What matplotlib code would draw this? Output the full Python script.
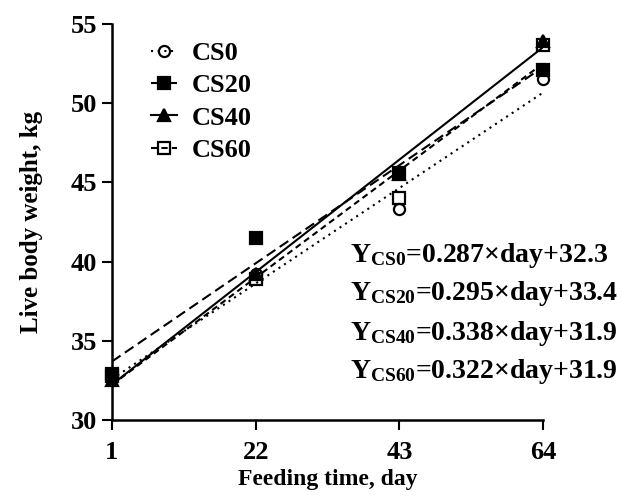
import matplotlib
matplotlib.use("Agg")
import matplotlib.pyplot as plt
from matplotlib.lines import Line2D
import numpy as np

plt.rcParams['font.family'] = ['Liberation Serif', 'DejaVu Serif']
plt.rcParams['font.weight'] = 'bold'
plt.rcParams['mathtext.fontset'] = 'custom'
plt.rcParams['mathtext.rm'] = 'Liberation Serif:bold'
plt.rcParams['mathtext.bf'] = 'Liberation Serif:bold'

# data
days = [1, 22, 43, 64]
groups = ["CS0", "CS20", "CS40", "CS60"]
cs0 = [32.7, 39.2, 43.3, 51.5]
cs20 = [32.9, 41.5, 45.6, 52.1]
cs40 = [32.5, 39.2, 45.5, 53.9]
cs60 = [32.8, 38.9, 44.0, 53.7]
slopes = [0.287, 0.295, 0.338, 0.322]
intercepts = [32.3, 33.4, 31.9, 31.9]

values = [cs0, cs20, cs40, cs60]
markers = ['o', 's', '^', 's']
facecolors = ['none', 'k', 'k', 'none']
linestyles = [(0, (1, 2.2)), (0, (5, 2.5)), '-', (0, (3, 2))]

fig = plt.figure(figsize=(6.22, 4.95), dpi=100)
ax = fig.add_axes([0.180, 0.1515, 0.693, 0.80])

# regression lines from the printed equations, plus the measured points
x_fit = np.array([days[0], days[-1]])
handles = []
for i in range(4):
    y_fit = slopes[i] * x_fit + intercepts[i]
    ax.plot(x_fit, y_fit, color='k', lw=1.5, linestyle=linestyles[i], zorder=2)
    ax.plot(days, values[i], linestyle='none', marker=markers[i], ms=8,
            mfc=facecolors[i], mec='k', mew=1.6, zorder=3, clip_on=False)
    handles.append(Line2D([], [], color='k', lw=1.5, linestyle=linestyles[i],
                          marker=markers[i], ms=8, mfc=facecolors[i], mec='k', mew=1.6))

ax.legend(handles, groups, loc='upper left', bbox_to_anchor=(0.035, 1.015), frameon=False,
          handlelength=1.0, handletextpad=0.55, labelspacing=0.33,
          prop={'weight': 'bold', 'size': 19})

ax.set_xlim(1, 64)
ax.set_ylim(30, 55)
ax.set_xticks(days)
ax.set_yticks([30, 35, 40, 45, 50, 55])
ax.tick_params(labelsize=19, width=1.5, length=7, direction='out')
ax.tick_params(axis='x', pad=8)
for s in ['top', 'right']:
    ax.spines[s].set_visible(False)
for s in ['left', 'bottom']:
    ax.spines[s].set_linewidth(1.8)
ax.spines['bottom'].set_bounds(1, 64)

ax.set_xlabel("Feeding time, day", fontsize=17, fontweight='bold', labelpad=4)
ax.set_ylabel("Live body weight, kg", fontsize=18, fontweight='bold', labelpad=20)

eq_rows = [255, 293, 333, 372]
for i in range(4):
    txt = r"$\mathrm{Y_{%s}}$=%.3f×day+%.1f" % (groups[i], slopes[i], intercepts[i])
    fig.text(350 / 622, 1 - eq_rows[i] / 495, txt, fontsize=20, fontweight='bold',
             va='center', ha='left')

fig.savefig("out.png", dpi=100)
